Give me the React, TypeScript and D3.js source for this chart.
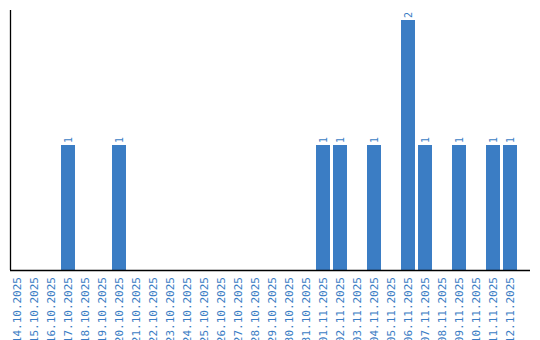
import React from "react";
import * as d3 from "d3";

const dates = [
  "14.10.2025", "15.10.2025", "16.10.2025", "17.10.2025", "18.10.2025",
  "19.10.2025", "20.10.2025", "21.10.2025", "22.10.2025", "23.10.2025",
  "24.10.2025", "25.10.2025", "26.10.2025", "27.10.2025", "28.10.2025",
  "29.10.2025", "30.10.2025", "31.10.2025", "01.11.2025", "02.11.2025",
  "03.11.2025", "04.11.2025", "05.11.2025", "06.11.2025", "07.11.2025",
  "08.11.2025", "09.11.2025", "10.11.2025", "11.11.2025", "12.11.2025",
];
const counts = [
  0, 0, 0, 1, 0,
  0, 1, 0, 0, 0,
  0, 0, 0, 0, 0,
  0, 0, 0, 1, 1,
  0, 1, 0, 2, 1,
  0, 1, 0, 1, 1,
];

const W = 540;
const H = 340;
const BLUE = "#3b7dc4";
const FONT = "'DejaVu Sans Mono', monospace";

export default function App() {
  const x = d3
    .scaleBand<string>()
    .domain(dates)
    .range([8.5, 518.5])
    .paddingInner(3 / 17)
    .paddingOuter(1.5 / 17);
  const y = d3.scaleLinear().domain([0, 2]).range([270, 20]);

  return (
    <svg
      width={W}
      height={H}
      style={{ position: "absolute", left: 0, top: 0, background: "#fff" }}
    >
      {dates.map((d, i) =>
        counts[i] > 0 ? (
          <g key={d}>
            <rect
              x={x(d)}
              y={y(counts[i])}
              width={x.bandwidth()}
              height={y(0) - y(counts[i])}
              fill={BLUE}
            />
            <text
              transform={`translate(${(x(d) as number) + x.bandwidth() / 2 + 3.5},${y(counts[i]) - 2}) rotate(-90)`}
              fontFamily={FONT}
              fontSize={10}
              fill={BLUE}
            >
              {counts[i]}
            </text>
          </g>
        ) : null
      )}
      {dates.map((d) => (
        <text
          key={"l" + d}
          transform={`translate(${(x(d) as number) + x.bandwidth() / 2 + 4},${277}) rotate(-90)`}
          textAnchor="end"
          fontFamily={FONT}
          fontSize={11}
          fill={BLUE}
        >
          {d}
        </text>
      ))}
      <line x1={10.5} x2={10.5} y1={10} y2={270} stroke="#000" strokeWidth={1.3} />
      <line x1={10} x2={530} y1={270.5} y2={270.5} stroke="#000" strokeWidth={1.3} />
    </svg>
  );
}
